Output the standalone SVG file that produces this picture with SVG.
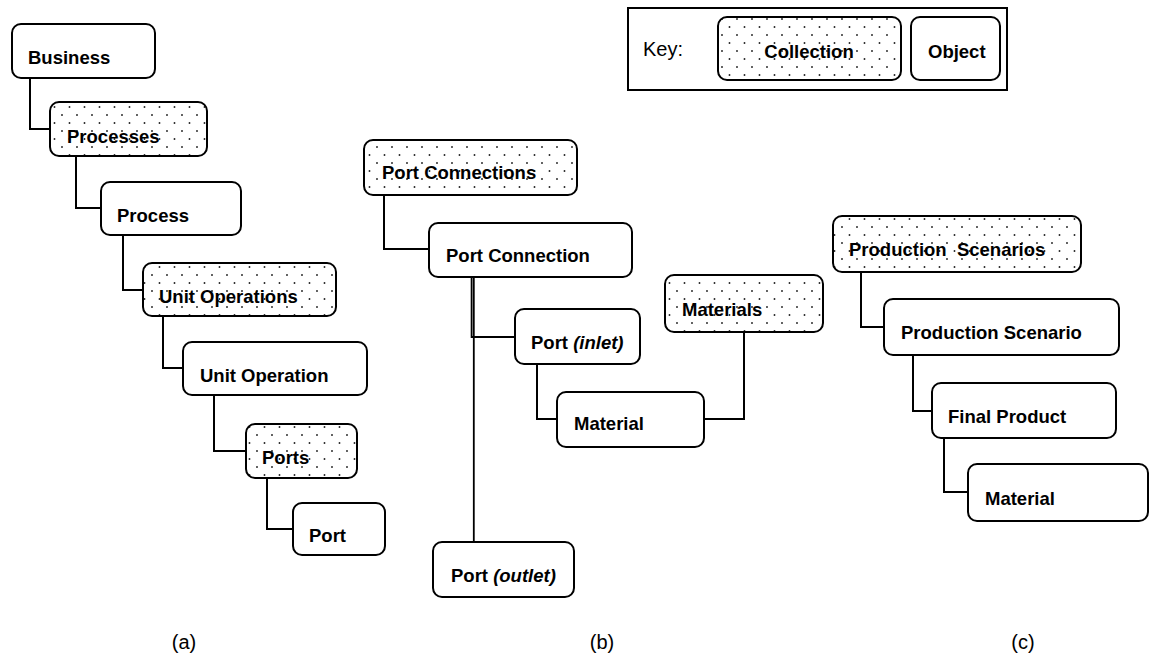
<svg xmlns="http://www.w3.org/2000/svg" width="1150" height="657" viewBox="0 0 1150 657">
  <defs>
    <!-- staggered dot fill used for collection boxes -->
    <pattern id="dots" patternUnits="userSpaceOnUse" width="15" height="16">
      <circle cx="2" cy="3" r="0.95" fill="#222"/>
      <circle cx="9.5" cy="11" r="0.95" fill="#222"/>
    </pattern>
    <style>
      .obj { fill: #fff; stroke: #000; stroke-width: 2; }
      .col { fill: url(#dots); stroke: #000; stroke-width: 2; }
      .lbl { font-family: "Liberation Sans", Arial, sans-serif; font-size: 18.5px; font-weight: bold; fill: #000; }
      .it { font-style: italic; }
      .cap { font-family: "Liberation Sans", Arial, sans-serif; font-size: 20px; fill: #000; }
      .conn path { fill: none; stroke: #000; stroke-width: 2; }
    </style>
  </defs>
  <rect width="1150" height="657" fill="#fff"/>

  <!-- connectors -->
  <g id="connectors" class="conn">
    <path d="M30 78 V129 H50"/>
    <path d="M76 156 V208 H101"/>
    <path d="M123 235 V290 H143"/>
    <path d="M163 316 V368 H183"/>
    <path d="M214 395 V451 H246"/>
    <path d="M267 478 V529 H293"/>
    <path d="M384 195 V249 H429"/>
    <path d="M471.6 277 V337 H515" style="stroke-width:1.8"/>
    <path d="M473.8 277 V542" style="stroke-width:1.8"/>
    <path d="M537 364 V419 H557"/>
    <path d="M704 419 H744 V332"/>
    <path d="M861 272 V327 H884"/>
    <path d="M913 355 V411 H932"/>
    <path d="M944 438 V492 H968"/>
  </g>

  <!-- key -->
  <g id="key">
    <rect x="628" y="8" width="379" height="82" fill="#fff" stroke="#000" stroke-width="2"/>
    <text class="cap" x="643" y="56">Key:</text>
    <rect class="col" x="718" y="17" width="183" height="63" rx="9"/>
    <text class="lbl" x="809" y="58" text-anchor="middle">Collection</text>
    <rect class="obj" x="911" y="17" width="89" height="63" rx="9"/>
    <text class="lbl" x="928" y="58">Object</text>
  </g>

  <!-- (a) business hierarchy -->
  <g id="business"><rect class="obj" x="12" y="24" width="143" height="54" rx="9"/><text class="lbl" x="28" y="64">Business</text></g>
  <g id="processes"><rect class="col" x="50" y="102" width="157" height="54" rx="9"/><text class="lbl" x="67" y="143">Processes</text></g>
  <g id="process"><rect class="obj" x="101" y="182" width="140" height="53" rx="9"/><text class="lbl" x="117" y="222">Process</text></g>
  <g id="unit-operations"><rect class="col" x="143" y="263" width="193" height="53" rx="9"/><text class="lbl" x="159" y="303">Unit Operations</text></g>
  <g id="unit-operation"><rect class="obj" x="183" y="342" width="184" height="53" rx="9"/><text class="lbl" x="200" y="382">Unit Operation</text></g>
  <g id="ports"><rect class="col" x="246" y="424" width="111" height="54" rx="9"/><text class="lbl" x="262" y="464">Ports</text></g>
  <g id="port"><rect class="obj" x="293" y="503" width="92" height="52" rx="9"/><text class="lbl" x="309" y="542">Port</text></g>

  <!-- (b) port connections -->
  <g id="port-connections"><rect class="col" x="364" y="140" width="213" height="55" rx="9"/><text class="lbl" x="382" y="179">Port Connections</text></g>
  <g id="port-connection"><rect class="obj" x="429" y="223" width="203" height="54" rx="9"/><text class="lbl" x="446" y="262">Port Connection</text></g>
  <g id="port-inlet"><rect class="obj" x="515" y="309" width="125" height="55" rx="9"/><text class="lbl" x="531" y="349">Port <tspan class="it">(inlet)</tspan></text></g>
  <g id="materials"><rect class="col" x="665" y="275" width="158" height="57" rx="9"/><text class="lbl" x="682" y="316">Materials</text></g>
  <g id="material-b"><rect class="obj" x="557" y="392" width="147" height="55" rx="9"/><text class="lbl" x="574" y="430">Material</text></g>
  <g id="port-outlet"><rect class="obj" x="433" y="542" width="141" height="55" rx="9"/><text class="lbl" x="451" y="582">Port <tspan class="it">(outlet)</tspan></text></g>

  <!-- (c) production scenarios -->
  <g id="production-scenarios"><rect class="col" x="833" y="216" width="248" height="56" rx="9"/><text class="lbl" x="849" y="256" xml:space="preserve" style="white-space:pre">Production  Scenarios</text></g>
  <g id="production-scenario"><rect class="obj" x="884" y="299" width="235" height="56" rx="9"/><text class="lbl" x="901" y="339">Production Scenario</text></g>
  <g id="final-product"><rect class="obj" x="932" y="383" width="184" height="55" rx="9"/><text class="lbl" x="948" y="423">Final Product</text></g>
  <g id="material-c"><rect class="obj" x="968" y="464" width="180" height="57" rx="9"/><text class="lbl" x="985" y="505">Material</text></g>

  <!-- captions -->
  <g id="captions">
    <text class="cap" x="184" y="649" text-anchor="middle">(a)</text>
    <text class="cap" x="602" y="649" text-anchor="middle">(b)</text>
    <text class="cap" x="1023" y="649" text-anchor="middle">(c)</text>
  </g>
</svg>
